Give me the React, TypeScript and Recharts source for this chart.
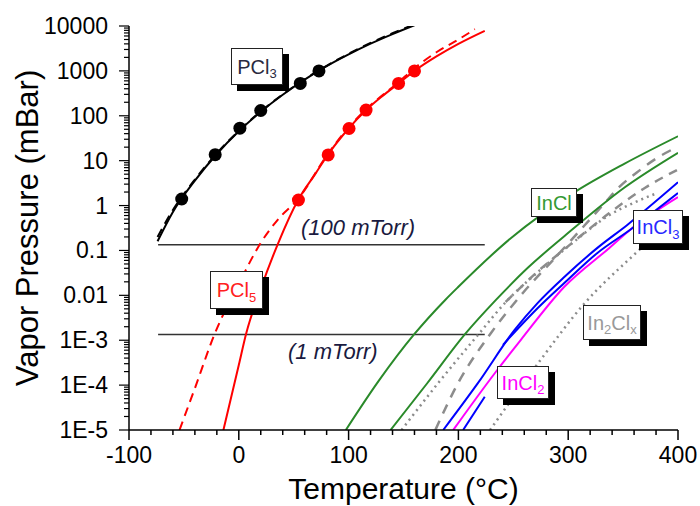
import { ComposedChart, Line, XAxis, YAxis, ReferenceLine } from 'recharts'

// PCl3 (black)
const pcl3T = [-74, -60, -40, -20, 0, 20, 40, 60, 80, 100, 120, 140, 160]
const pcl3P = [0.16, 0.72, 3.6, 14.1, 45, 123, 295, 640, 1270, 2320, 4030, 6600, 10400]
const pcl3DashP = [0.2, 0.8, 3.8, 14.6, 46, 125, 300, 650, 1300, 2400, 4200, 6900, 10900]
const pcl3MarkT = [-52, -21.5, 1, 20, 56, 73]
const pcl3MarkP = [1.4, 13.6, 53, 131, 526, 1000]

// PCl5 (red)
const pcl5T = [-14, 0, 6.6, 20, 36, 54, 70, 81, 100, 116, 130, 145.5, 160, 180, 200, 224]
const pcl5P = [1e-5, 2.8e-4, 1.38e-3, 0.014, 0.148, 1.33, 5.2, 13.4, 52, 134, 265, 525, 1000, 2100, 4000, 7800]
const pcl5DashT = [-54, -40, -22, 0, 20, 36, 54, 81, 100, 116, 145.5, 160, 180, 200, 215]
const pcl5DashP = [1e-5, 8.5e-5, 1.38e-3, 0.018, 0.148, 0.5, 1.4, 14, 55, 140, 560, 1150, 2600, 5000, 8500]
const pcl5MarkT = [54.3, 81.4, 100.4, 115.9, 145.5, 160]
const pcl5MarkP = [1.33, 13.4, 52, 134, 525, 1000]

// InCl (green)
const incl1T = [97.5, 127.4, 160, 188, 200, 248, 306, 351, 400]
const incl1P = [1e-5, 1.24e-4, 1.38e-3, 7.9e-3, 0.0155, 0.19, 2.0, 8.5, 35]
const incl2T = [138.2, 171.6, 206.2, 234.2, 263.2, 296.7, 351, 400]
const incl2P = [1e-5, 1.1e-4, 1.38e-3, 7.9e-3, 0.041, 0.21, 2.5, 15]

// In2Clx (grey)
const dashAT = [179, 199.8, 229.7, 258.7, 290.4, 331.2, 346.6, 364.7, 381, 399]
const dashAP = [1e-5, 1.12e-4, 1.45e-3, 0.0113, 0.079, 1.0, 2.6, 6.0, 11.5, 20]
const dashBT = [243, 272.3, 304, 337.5, 370.1, 399.1]
const dashBP = [7.1e-3, 0.034, 0.15, 0.68, 2.5, 6.2]
const dotAT = [148.2, 181.7, 217.9, 243.2, 272.3, 304, 337.8, 361.3, 381.2]
const dotAP = [1e-5, 1.12e-4, 1.32e-3, 7.1e-3, 0.033, 0.147, 0.62, 1.2, 1.9]
const dotBT = [228.8, 272.3, 314.6, 359.9, 400]
const dotBP = [1e-5, 3.0e-4, 6.5e-3, 0.08, 0.6]

// InCl3 (blue)
const incl3aT = [186.2, 217.9, 251.2, 272.3, 296.7, 326.6, 353.8, 400]
const incl3aP = [1e-5, 1.12e-4, 1.7e-3, 6.8e-3, 0.026, 0.114, 0.37, 3.3]
const incl3bT = [204.3, 224, 232, 240.6, 272.3, 296.7, 326.6, 356.5, 400]
const incl3bP = [1e-5, 5.5e-5, null, 7.9e-4, 5.2e-3, 0.019, 0.088, 0.29, 1.9]

// InCl2 (magenta)
const incl2MT = [195.3, 233.3, 256.9, 296.5, 337.5, 356.5, 400]
const incl2MP = [1e-5, 1.86e-4, 1.02e-3, 0.0155, 0.114, 0.29, 1.55]

const torrLines = [0.1333, 1.333e-3]

const xMajor = [-100, 0, 100, 200, 300, 400]
const yMajor = [1e-5, 1e-4, 1e-3, 0.01, 0.1, 1, 10, 100, 1000, 10000]
const yLabels = ['1E-5', '1E-4', '1E-3', '0.01', '0.1', '1', '10', '100', '1000', '10000']

const FONT = 'Arial, "Liberation Sans", sans-serif'

type Pt = { t: number; p: number | null }
const zip = (ts: number[], ps: (number | null)[]): Pt[] => ts.map((t, i) => ({ t, p: ps[i] }))

const xTicks: number[] = []
for (let v = -100; v <= 400; v += 20) xTicks.push(v)
const yTicks: number[] = []
for (let k = -5; k < 4; k++) {
  for (let m = 1; m <= 9; m++) yTicks.push(Number((m * Math.pow(10, k)).toPrecision(3)))
}
yTicks.push(10000)

const majorY = (v: number) => yMajor.findIndex((d) => Math.abs(v - d) / d < 1e-6)

function BottomTick(props: any) {
  const { x, y, payload } = props
  const major = xMajor.includes(payload.value)
  return (
    <g>
      <line x1={x} x2={x} y1={y} y2={y + (major ? 10 : 5)} stroke="#000" strokeWidth={1.5} />
      {major && (
        <text x={x} y={y + 33} textAnchor="middle" fontSize={23} fontFamily={FONT} fill="#000">
          {payload.value}
        </text>
      )}
    </g>
  )
}

function TopTick(props: any) {
  const { x, y, payload } = props
  const major = xMajor.includes(payload.value)
  return <line x1={x} x2={x} y1={y} y2={y + (major ? 10 : 5)} stroke="#000" strokeWidth={1.5} />
}

function LeftTick(props: any) {
  const { x, y, payload } = props
  const i = majorY(payload.value)
  return (
    <g>
      <line x1={x - (i >= 0 ? 10 : 5)} x2={x} y1={y} y2={y} stroke="#000" strokeWidth={1.2} />
      {i >= 0 && (
        <text x={x - 21} y={y + 8} textAnchor="end" fontSize={23} fontFamily={FONT} fill="#000">
          {yLabels[i]}
        </text>
      )}
    </g>
  )
}

function RightTick(props: any) {
  const { x, y, payload } = props
  const i = majorY(payload.value)
  return <line x1={x - (i >= 0 ? 10 : 5)} x2={x} y1={y} y2={y} stroke="#000" strokeWidth={1.2} />
}

function Tag({ x, y, w, h, color, children }: any) {
  return (
    <div
      style={{
        position: 'absolute', left: x, top: y, width: w, height: h, boxSizing: 'border-box',
        border: '1.5px solid #222', background: '#fff', boxShadow: '6px 6px 0 #000',
        color, fontFamily: FONT, fontSize: 20, display: 'flex', alignItems: 'center',
        justifyContent: 'center', whiteSpace: 'nowrap', lineHeight: 1,
      }}
    >
      {children}
    </div>
  )
}

const Sub = ({ children }: any) => (
  <span style={{ fontSize: 13, position: 'relative', top: 7 }}>{children}</span>
)

const note = (x: number, y: number, text: string) => (
  <div
    style={{
      position: 'absolute', left: x, top: y, fontFamily: FONT, fontSize: 22,
      fontStyle: 'italic', lineHeight: 1, color: '#1a1a40', whiteSpace: 'nowrap',
    }}
  >
    {text}
  </div>
)

function curve(data: Pt[], color: string, dash?: string, width = 2) {
  return (
    <Line
      data={data}
      dataKey="p"
      xAxisId="b"
      yAxisId="l"
      type="monotone"
      stroke={color}
      strokeWidth={width}
      strokeDasharray={dash}
      dot={false}
      activeDot={false}
      isAnimationActive={false}
    />
  )
}

function marks(data: Pt[], color: string) {
  return (
    <Line
      data={data}
      dataKey="p"
      xAxisId="b"
      yAxisId="l"
      stroke="none"
      dot={{ r: 6.5, fill: color, stroke: color, strokeWidth: 0 }}
      activeDot={false}
      isAnimationActive={false}
    />
  )
}

export default function App() {
  return (
    <div style={{ position: 'absolute', left: 0, top: 0, width: 700, height: 506, background: '#fff', overflow: 'hidden' }}>
      <ComposedChart width={700} height={506} margin={{ top: 26, right: 22, bottom: 0, left: 0 }}>
        <XAxis
          xAxisId="b"
          dataKey="t"
          type="number"
          domain={[-100, 400]}
          allowDataOverflow
          ticks={xTicks}
          interval={0}
          height={76}
          tickSize={0}
          tickMargin={0}
          tick={<BottomTick />}
          axisLine={{ stroke: '#000', strokeWidth: 1.5 }}
          label={{ value: 'Temperature (°C)', position: 'insideBottom', offset: 7, style: { fontSize: 30, fontFamily: FONT, fill: '#000' } }}
        />
        <XAxis
          xAxisId="t"
          orientation="top"
          dataKey="t"
          type="number"
          domain={[-100, 400]}
          allowDataOverflow
          ticks={xTicks}
          interval={0}
          height={0}
          tickSize={0}
          tickMargin={0}
          tick={<TopTick />}
          axisLine={{ stroke: '#000', strokeWidth: 1.5 }}
        />
        <YAxis
          yAxisId="l"
          type="number"
          scale="log"
          domain={[1e-5, 10000]}
          allowDataOverflow
          ticks={yTicks}
          interval={0}
          width={129}
          tickSize={0}
          tickMargin={0}
          tick={<LeftTick />}
          axisLine={{ stroke: '#000', strokeWidth: 1.5 }}
          label={{ value: 'Vapor Pressure (mBar)', angle: -90, position: 'insideLeft', offset: 27, style: { textAnchor: 'middle', fontSize: 31, fontFamily: FONT, fill: '#000' } }}
        />
        <YAxis
          yAxisId="r"
          orientation="right"
          type="number"
          scale="log"
          domain={[1e-5, 10000]}
          allowDataOverflow
          ticks={yTicks}
          interval={0}
          width={0}
          tickSize={0}
          tickMargin={0}
          tick={<RightTick />}
          axisLine={{ stroke: '#000', strokeWidth: 1.5 }}
        />

        {torrLines.map((p) => (
          <ReferenceLine
            key={p}
            xAxisId="b"
            yAxisId="l"
            segment={[{ x: -73.5, y: p }, { x: 224, y: p }]}
            stroke="#333"
            strokeWidth={1.5}
          />
        ))}

        {curve(zip(dotAT, dotAP), '#8c8c8c', '2 4', 2.5)}
        {curve(zip(dashBT, dashBP), '#8c8c8c', '9 7', 2.5)}
        {curve(zip(dashAT, dashAP), '#8c8c8c', '10 8', 2.5)}
        {curve(zip(dotBT, dotBP), '#8c8c8c', '2 4', 2.5)}

        {curve(zip(incl1T, incl1P), '#2a8a2a')}
        {curve(zip(incl2T, incl2P), '#2a8a2a')}

        {curve(zip(incl2MT, incl2MP), '#ff00ff')}
        {curve(zip(incl3aT, incl3aP), '#0000ff')}
        {curve(zip(incl3bT, incl3bP), '#0000ff')}

        {curve(zip(pcl3T, pcl3DashP), '#000', '9 6')}
        {curve(zip(pcl3T, pcl3P), '#000')}
        {marks(zip(pcl3MarkT, pcl3MarkP), '#000')}

        {curve(zip(pcl5DashT, pcl5DashP), '#ff0000', '9 6')}
        {curve(zip(pcl5T, pcl5P), '#ff0000')}
        {marks(zip(pcl5MarkT, pcl5MarkP), '#ff0000')}
      </ComposedChart>

      {note(301, 217, '(100 mTorr)')}
      {note(288, 341, '(1 mTorr)')}

      <Tag x={231} y={48} w={52} h={37} color="#2a2a40">PCl<Sub>3</Sub></Tag>
      <Tag x={210} y={271} w={53} h={38} color="#ff2020">PCl<Sub>5</Sub></Tag>
      <Tag x={531} y={188} w={46} h={29} color="#339933">InCl</Tag>
      <Tag x={633} y={210} w={50} h={34} color="#2828ff">InCl<Sub>3</Sub></Tag>
      <Tag x={583} y={305} w={58} h={35} color="#999">In<Sub>2</Sub>Cl<Sub>x</Sub></Tag>
      <Tag x={497} y={366} w={52} h={33} color="#ff00ff">InCl<Sub>2</Sub></Tag>
    </div>
  )
}
